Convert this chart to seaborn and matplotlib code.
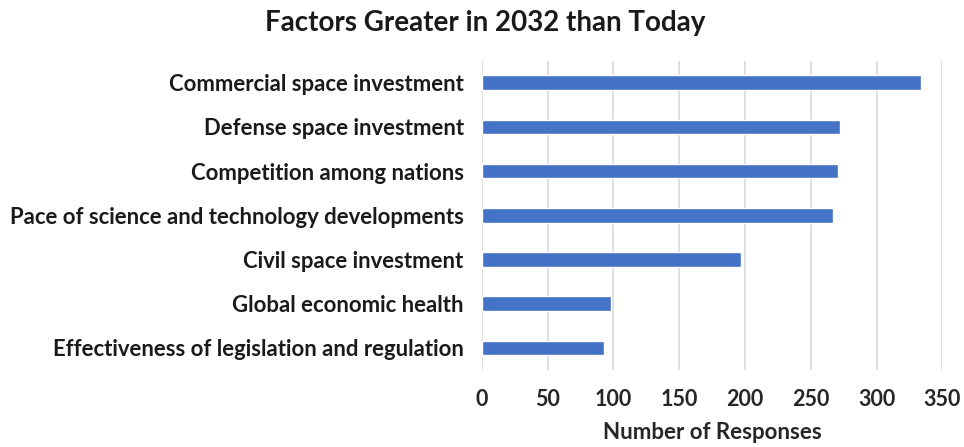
import matplotlib
matplotlib.use("Agg")
import matplotlib.pyplot as plt
import seaborn as sns
import pandas as pd

# Survey responses: factors expected to be greater in 2032 than today
factors = [
    "Commercial space investment",
    "Defense space investment",
    "Competition among nations",
    "Pace of science and technology developments",
    "Civil space investment",
    "Global economic health",
    "Effectiveness of legislation and regulation",
]
responses = [334, 272, 271, 267, 197, 98, 93]
x_ticks = [0, 50, 100, 150, 200, 250, 300, 350]

df = pd.DataFrame({"factor": factors, "responses": responses})

sns.set_theme(style="white")
plt.rcParams["font.family"] = ["Lato", "DejaVu Sans"]
plt.rcParams["font.weight"] = "bold"

fig = plt.figure(figsize=(9.64, 4.47), dpi=100)
ax = fig.add_axes([0.4997, 0.1723, 0.4778, 0.6921])

sns.barplot(data=df, x="responses", y="factor", orient="h",
            color="#4472C4", saturation=1, width=1/3, ax=ax)

ax.set_xlim(0, 350)
ax.set_xticks(x_ticks)
ax.set_xticklabels([str(t) for t in x_ticks], fontsize=15.5, fontweight="bold", color="#262626")
ax.tick_params(axis="x", length=0, pad=14)
ax.tick_params(axis="y", length=0, pad=13)
for lbl in ax.get_yticklabels():
    lbl.set_fontsize(15.9)
    lbl.set_fontweight("bold")
    lbl.set_color("#1a1a1a")

ax.grid(axis="x", color="#D9D9D9", linewidth=1.2)
ax.set_axisbelow(True)
for s in ax.spines.values():
    s.set_visible(False)

ax.set_ylabel("")
ax.set_xlabel("Number of Responses", fontsize=16, fontweight="bold", color="#262626", labelpad=8)

fig.suptitle("Factors Greater in 2032 than Today", x=0.503, y=0.978, fontsize=20,
             fontweight="bold", color="#1a1a1a")

fig.savefig("out.png", dpi=100, facecolor="white")
